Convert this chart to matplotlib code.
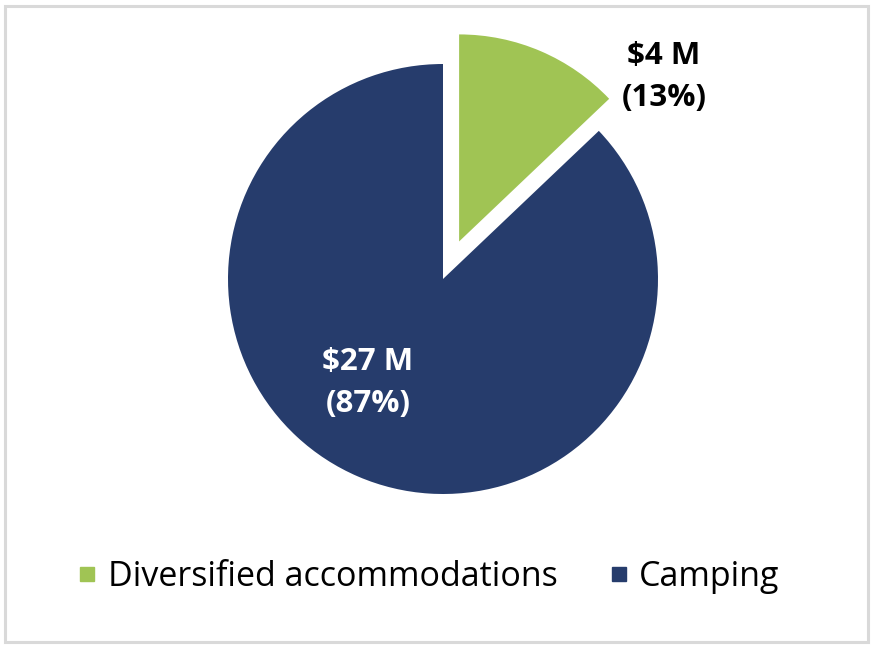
import matplotlib.pyplot as plt
from matplotlib.patches import Rectangle
from matplotlib.lines import Line2D

categories = ['Diversified accommodations', 'Camping']
values = [4, 27]          # $ millions
colors = ['#A0C454', '#263C6C']
label_colors = ['black', 'white']

total = sum(values)
pcts = [round(v / total * 100) for v in values]

W, H = 876, 650
fig = plt.figure(figsize=(W / 100, H / 100), dpi=100)
plt.rcParams['font.family'] = ['Open Sans', 'DejaVu Sans']

# grey frame around the chart area
fig.patches.append(Rectangle((5 / W, 8 / H), 863 / W, 636 / H, transform=fig.transFigure,
                             fill=False, edgecolor='#d9d9d9', linewidth=2.2))

# axes so that 1 data unit = 215 px, pie centre at (443, 279) px from top
r_px = 215
cx, cy = 443, H - 279
half = 1.2 * r_px
ax = fig.add_axes([(cx - half) / W, (cy - half) / H, 2 * half / W, 2 * half / H])

wedges, _ = ax.pie(values, colors=colors, startangle=90, counterclock=False,
                   explode=[0.19, 0], radius=1.0)
wedges[0].set_radius(0.963)
ax.set_xlim(-1.2, 1.2)
ax.set_ylim(-1.2, 1.2)
ax.set_aspect('equal')
ax.axis('off')

label_pos = [(1.028, 0.94), (-0.349, -0.484)]
for v, p, pos, c in zip(values, pcts, label_pos, label_colors):
    ax.text(pos[0], pos[1], f'${v} M\n({p}%)', ha='center', va='center',
            color=c, fontsize=22.5, fontweight='bold', linespacing=1.5)

handles = [Line2D([], [], marker='s', linestyle='none', markersize=10,
                  markerfacecolor=col, markeredgecolor=col) for col in colors]
fig.legend(handles, categories, loc='center', bbox_to_anchor=(0.489, 1 - 577 / H),
           ncol=2, frameon=False, fontsize=24.5, handletextpad=0.3,
           columnspacing=1.5, handlelength=0.6)

fig.savefig('out.png', dpi=100)
